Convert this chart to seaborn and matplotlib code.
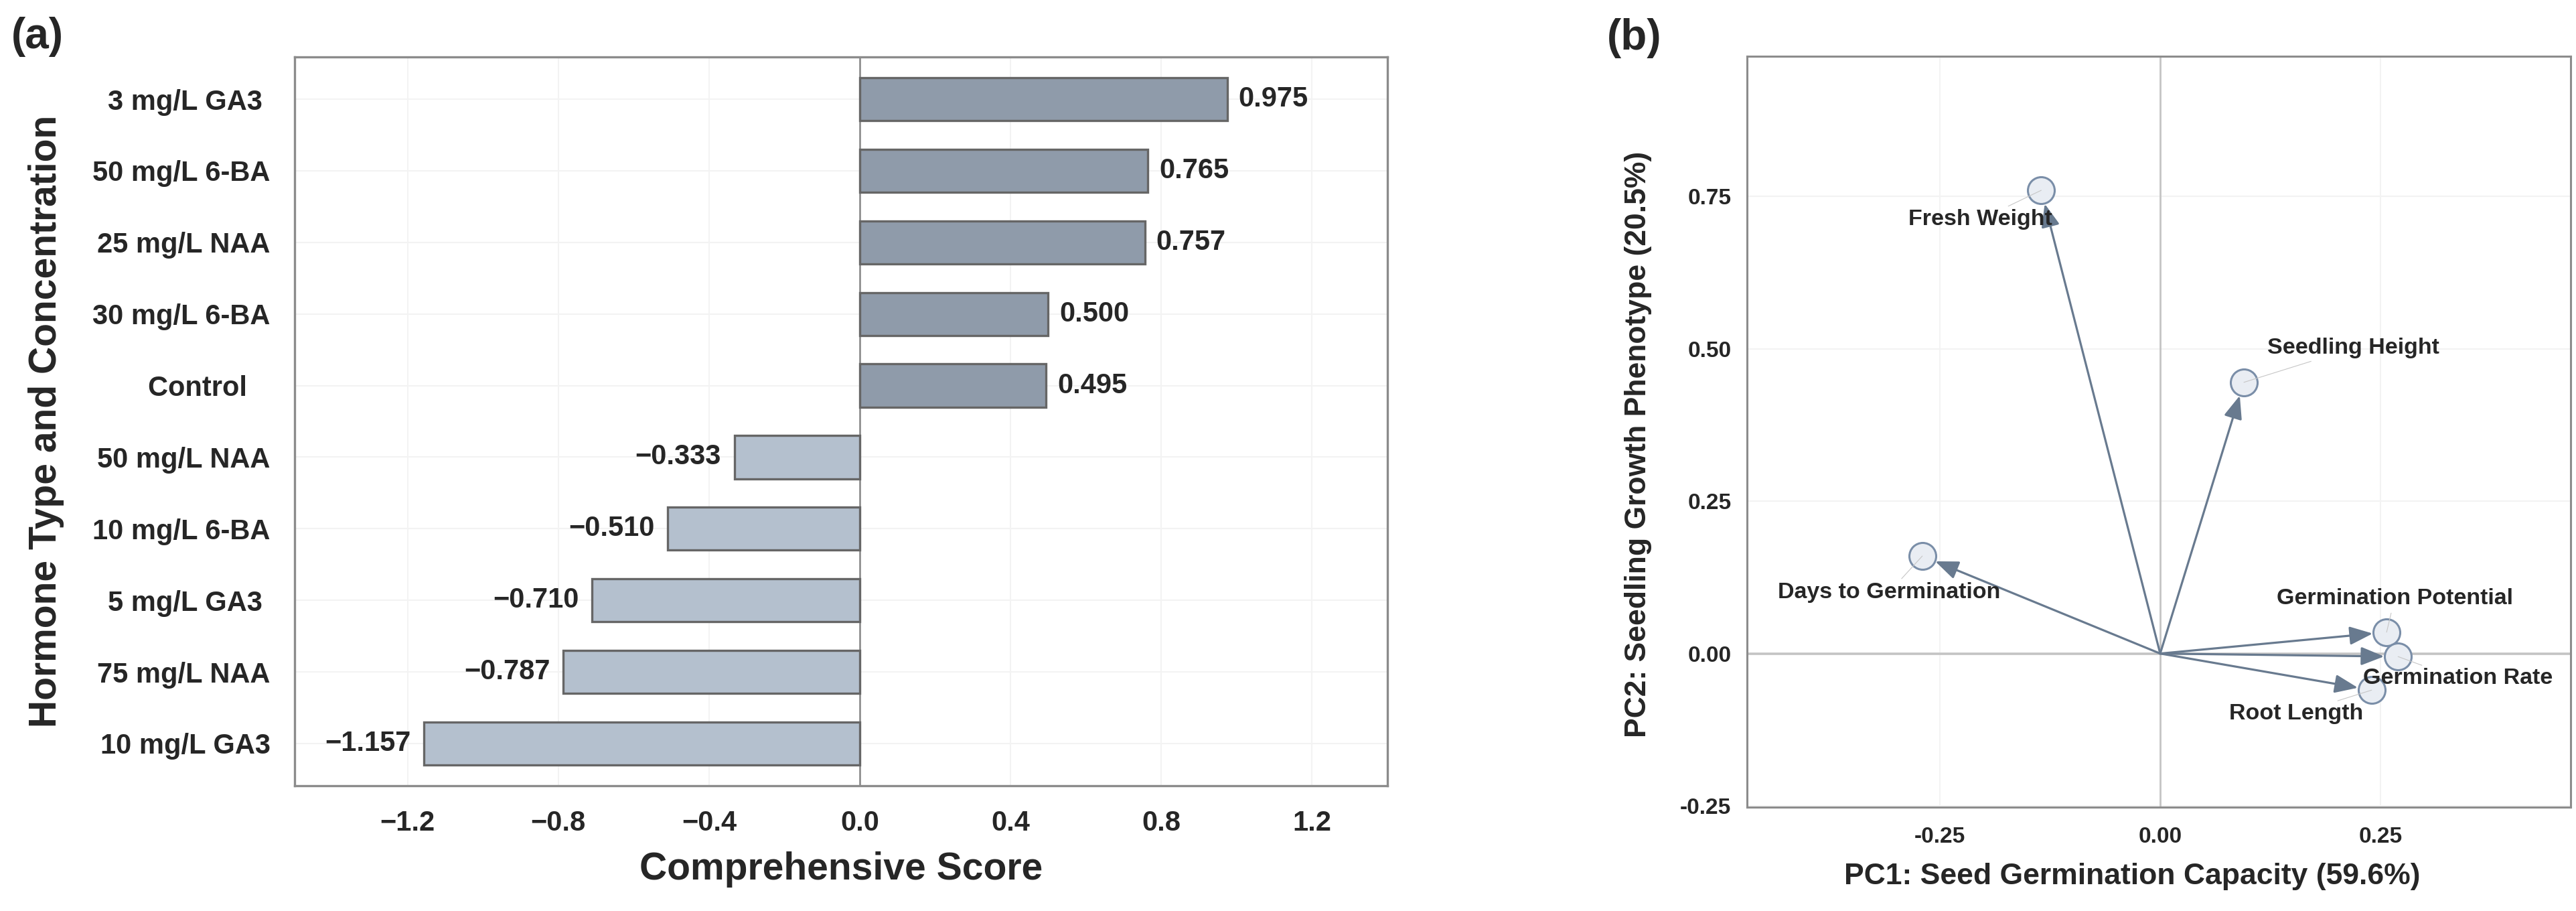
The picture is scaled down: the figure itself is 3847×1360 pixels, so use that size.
import matplotlib
matplotlib.use("Agg")
import matplotlib.pyplot as plt
import seaborn as sns
import pandas as pd
import numpy as np

# ---------------- data ----------------
categories = ["3 mg/L GA3 ", "50 mg/L 6-BA", "25 mg/L NAA", "30 mg/L 6-BA", "Control   ",
              "50 mg/L NAA", "10 mg/L 6-BA", "5 mg/L GA3 ", "75 mg/L NAA", "10 mg/L GA3"]
scores = [0.975, 0.765, 0.757, 0.500, 0.495, -0.333, -0.510, -0.710, -0.787, -1.157]

variables = ["Fresh Weight", "Seedling Height", "Days to Germination",
             "Germination Potential", "Germination Rate", "Root Length"]
pc1 = [-0.135, 0.095, -0.270, 0.257, 0.270, 0.240]
pc2 = [0.760, 0.445, 0.160, 0.035, -0.005, -0.060]

xticks_a = [-1.2, -0.8, -0.4, 0.0, 0.4, 0.8, 1.2]
ticks_b_x = [-0.25, 0.0, 0.25]
ticks_b_y = [-0.25, 0.0, 0.25, 0.50, 0.75]

# label offsets (layout only) for panel b, in data units
label_offsets = {
    "Fresh Weight": (-0.069, -0.048),
    "Seedling Height": (0.124, 0.056),
    "Days to Germination": (-0.038, -0.060),
    "Germination Potential": (0.009, 0.055),
    "Germination Rate": (0.068, -0.036),
    "Root Length": (-0.086, -0.039),
}

# ---------------- style ----------------
sns.set_theme(style="white")
plt.rcParams["font.family"] = ["Liberation Sans", "DejaVu Sans"]
plt.rcParams["font.weight"] = "bold"
plt.rcParams["axes.labelweight"] = "bold"

POS = "#8a9bae"
NEG = "#b0bfd2"
EDGE = "#666666"
SPINE = "#8c8c8c"
GRID = "#f3f3f3"

fig = plt.figure(figsize=(38.48, 13.6), dpi=100)
fig.patch.set_facecolor("white")

# ---------------- panel (a) ----------------
ax1 = fig.add_axes([0.1143, 0.1375, 0.4241, 0.8])
df = pd.DataFrame({"cat": categories, "score": scores})
df["sign"] = np.where(df["score"] >= 0, "pos", "neg")
sns.barplot(data=df, x="score", y="cat", hue="sign", palette={"pos": POS, "neg": NEG},
            dodge=False, width=0.6, edgecolor=EDGE, linewidth=2.4, legend=False,
            order=categories, ax=ax1, zorder=3)
ax1.set_xlim(-1.50, 1.40)
ax1.set_ylim(9.59, -0.59)
ax1.set_xticks(xticks_a)
ax1.set_xticklabels([f"{t:.1f}".replace("-", "\u2212") for t in xticks_a])
ax1.axvline(0, color="#858585", lw=1.8, zorder=2)
for t in xticks_a:
    ax1.axvline(t, color=GRID, lw=1.5, zorder=0)
for i in range(len(categories)):
    ax1.axhline(i, color=GRID, lw=1.5, zorder=0)

for i, v in enumerate(scores):
    txt = f"{v:.3f}".replace("-", "\u2212")
    if v >= 0:
        ax1.text(v + 0.03, i, txt, ha="left", va="center", fontsize=30, fontweight="bold", zorder=4)
    else:
        ax1.text(v - 0.035, i, txt, ha="right", va="center", fontsize=30, fontweight="bold", zorder=4)

ax1.set_xlabel("Comprehensive Score", fontsize=41, fontweight="bold")
ax1.set_ylabel("Hormone Type and Concentration", fontsize=41, fontweight="bold")
ax1.xaxis.set_label_coords(0.5, -0.115)
ax1.xaxis.label.set_va("center")
ax1.yaxis.set_label_coords(-0.227, 0.5)
ax1.yaxis.label.set_va("center")
ax1.tick_params(axis="both", which="major", direction="out", length=17, width=1.6,
                color=SPINE, labelsize=30, pad=9)
for s in ax1.spines.values():
    s.set_color(SPINE)
    s.set_linewidth(2.4)
for lab in ax1.get_xticklabels() + ax1.get_yticklabels():
    lab.set_fontweight("bold")

fig.text(17 / 3848, 1 - 25 / 1360, "(a)", fontsize=46, fontweight="bold", ha="left", va="top")

# ---------------- panel (b) ----------------
ax2 = fig.add_axes([0.678, 0.114, 0.3197, 0.8243])
ax2.set_xlim(-0.469, 0.466)
ax2.set_ylim(-0.252, 0.98)
for t in ticks_b_x:
    ax2.axvline(t, color=GRID, lw=1.5, zorder=0)
for t in ticks_b_y:
    ax2.axhline(t, color=GRID, lw=1.5, zorder=0)
ax2.axhline(0, color="#c4c4c4", lw=2.6, zorder=1)
ax2.axvline(0, color="#c4c4c4", lw=2.0, zorder=1)

for x, y in zip(pc1, pc2):
    ax2.annotate("", xy=(x, y), xytext=(0, 0),
                 arrowprops=dict(arrowstyle="-|>,head_length=1.05,head_width=0.42",
                                 color="#687a8f", lw=2.3, shrinkA=0, shrinkB=15,
                                 mutation_scale=20), zorder=2)

sns.scatterplot(x=pc1, y=pc2, s=830, color="#e9edf3", edgecolor="#7a8ea8",
                linewidth=2.2, ax=ax2, zorder=3)

for name, x, y in zip(variables, pc1, pc2):
    dx, dy = label_offsets[name]
    ax2.annotate(name, xy=(x, y), xytext=(x + dx, y + dy), ha="center", va="center",
                 fontsize=24.5, fontweight="bold", zorder=4,
                 arrowprops=dict(arrowstyle="-", color="#c6c6c6", lw=0.8,
                                 shrinkA=2, shrinkB=0))

ax2.set_xticks(ticks_b_x)
ax2.set_xticklabels([f"{t:.2f}" for t in ticks_b_x])
ax2.set_yticks(ticks_b_y)
ax2.set_yticklabels([f"{t:.2f}" for t in ticks_b_y])
ax2.set_xlabel("PC1: Seed Germination Capacity (59.6%)", fontsize=32, fontweight="bold")
ax2.set_ylabel("PC2: Seedling Growth Phenotype (20.5%)", fontsize=32, fontweight="bold")
ax2.xaxis.set_label_coords(0.4675, -0.092)
ax2.xaxis.label.set_va("center")
ax2.yaxis.set_label_coords(-0.132, 0.483)
ax2.yaxis.label.set_va("center")
ax2.tick_params(axis="both", which="major", direction="out", length=13, width=1.6,
                color=SPINE, labelsize=24, pad=4)
ax2.tick_params(axis="x", pad=8)
for s in ax2.spines.values():
    s.set_color(SPINE)
    s.set_linewidth(2.2)
for lab in ax2.get_xticklabels() + ax2.get_yticklabels():
    lab.set_fontweight("bold")

fig.text(2400 / 3848, 1 - 27 / 1360, "(b)", fontsize=46, fontweight="bold", ha="left", va="top")

fig.savefig("out.png", dpi=100, facecolor="white")
